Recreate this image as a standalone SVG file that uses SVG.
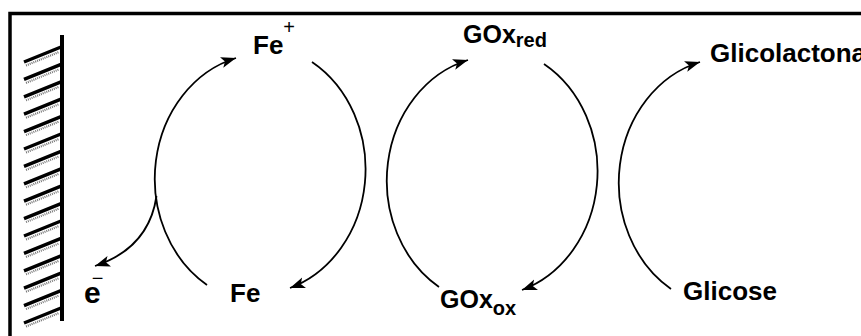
<svg xmlns="http://www.w3.org/2000/svg" width="861" height="336" viewBox="0 0 861 336">
<style>
.t{font-family:"Liberation Sans",Arial,sans-serif;font-weight:bold;fill:#000}
.s{font-family:"Liberation Sans",Arial,sans-serif;font-weight:normal;fill:#000}
.arc{fill:none;stroke:#000;stroke-width:1.8}
.h{stroke:#000;stroke-width:3.4;stroke-linecap:butt}
.hs{stroke:#777;stroke-width:2.2;stroke-dasharray:1 1}
</style>
<defs>
<marker id="ah" markerUnits="userSpaceOnUse" markerWidth="16" markerHeight="12" refX="15" refY="5.5" orient="auto">
<path d="M0,0 L15,5.5 L0,11 L3.5,5.5 Z" fill="#000"/>
</marker>
</defs>
<rect width="861" height="336" fill="#fff"/>
<path d="M10,336 V13.5 H861" fill="none" stroke="#000" stroke-width="3.5"/>
<g id="electrode">
<line x1="62" y1="35" x2="62" y2="321" stroke="#000" stroke-width="4"/>
<g id="hatch">
<path class="hs" d="M26,65.5 L59,52 M26,82.9 L59,69.4 M26,100.3 L59,86.8 M26,117.7 L59,104.2 M26,135.1 L59,121.6 M26,152.5 L59,139 M26,169.9 L59,156.4 M26,187.3 L59,173.8 M26,204.7 L59,191.2 M26,222.1 L59,208.6 M26,239.5 L59,226 M26,256.9 L59,243.4 M26,274.3 L59,260.8 M26,291.7 L59,278.2 M26,309.1 L59,295.6 M26,326.5 L59,313"/>
<path class="h" d="M24,62 L61,47 M24,79.4 L61,64.4 M24,96.8 L61,81.8 M24,114.2 L61,99.2 M24,131.6 L61,116.6 M24,149 L61,134 M24,166.4 L61,151.4 M24,183.8 L61,168.8 M24,201.2 L61,186.2 M24,218.6 L61,203.6 M24,236 L61,221 M24,253.4 L61,238.4 M24,270.8 L61,255.8 M24,288.2 L61,273.2 M24,305.6 L61,290.6 M24,323 L61,308"/>
</g>
</g>
<g id="connectors">
<path class="arc" d="M207,285 A110,125 0 0 1 236,58" marker-end="url(#ah)"/>
<path class="arc" d="M312,62 A110,125 0 0 1 290,288" marker-end="url(#ah)"/>
<path class="arc" d="M156.5,196 Q149,248 95,266" marker-end="url(#ah)"/>
<path class="arc" d="M439,287 A110,125 0 0 1 468,60" marker-end="url(#ah)"/>
<path class="arc" d="M544,64 A110,125 0 0 1 522,290" marker-end="url(#ah)"/>
<path class="arc" d="M671,289 A110,125 0 0 1 700,62" marker-end="url(#ah)"/>
</g>
<g id="node-fe-plus"><text class="t" x="253" y="54" font-size="26">Fe<tspan class="s" font-size="20" dy="-20">+</tspan></text></g>
<g id="node-fe"><text class="t" x="230" y="302" font-size="26">Fe</text></g>
<g id="node-e"><text class="t" x="84" y="303" font-size="30">e<tspan class="s" font-size="20" dx="-9" dy="-18">−</tspan></text></g>
<g id="node-goxred"><text class="t" x="463" y="43" font-size="25">GOx<tspan font-size="20" dy="4">red</tspan></text></g>
<g id="node-goxox"><text class="t" x="440" y="308" font-size="25">GOx<tspan font-size="20" dy="7">ox</tspan></text></g>
<g id="node-glicolactona"><text class="t" x="710" y="62" font-size="26">Glicolactona</text></g>
<g id="node-glicose"><text class="t" x="683" y="300" font-size="26">Glicose</text></g>
</svg>
